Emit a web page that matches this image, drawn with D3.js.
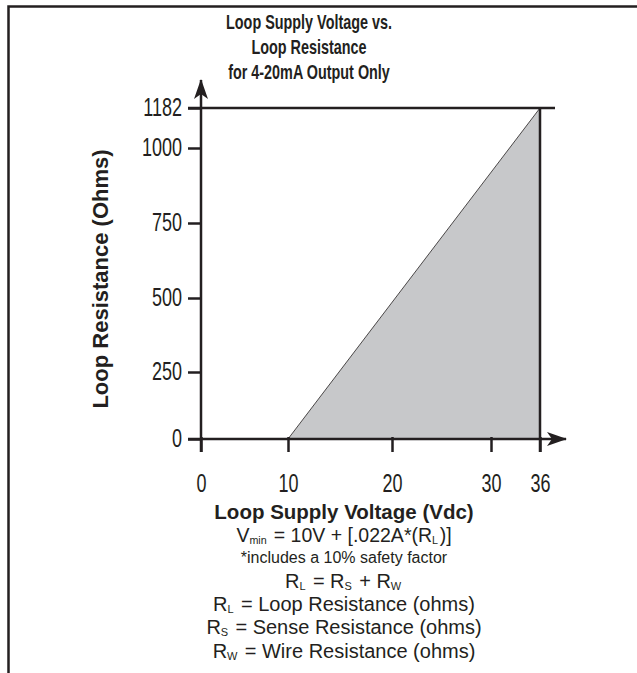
<!DOCTYPE html>
<head>
    <meta charset="utf-8">
    <title>Loop Supply Voltage vs. Loop Resistance</title>
    <style>
        html, body {
            margin: 0;
            background: #fff;
        }
        svg text {
            font-family: "Liberation Sans", Arial, sans-serif;
            fill: #231f20;
        }
        .tick text {
            font-size: 25px;
            transform-box: fill-box;
        }
        .y.axis .tick text {
            transform-origin: right center;
            transform: scaleX(0.72);
        }
        .x.axis .tick text {
            transform-origin: center center;
            transform: scaleX(0.72);
        }
    </style>
</head>
<body>
<script src="https://cdn.jsdelivr.net/npm/d3@7"></script>
<script>

    // data (axis is not drawn to scale, so the scales are piecewise)
    const xTicks = [0, 10, 20, 30, 36];
    const yTicks = [0, 250, 500, 750, 1000, 1182];
    const vMin = 10;        // volts at zero loop resistance
    const vMax = 36;
    const rMax = 1182;      // ohms at 36 V
    const region = [[vMin, 0], [vMax, rMax], [vMax, 0]];

    const titleLines = ["Loop Supply Voltage vs.", "Loop Resistance", "for 4-20mA Output Only"];

    const width = 637, height = 673;
    const ink = "#231f20";

    const svg = d3.select("body").append("svg")
        .attr("width", width)
        .attr("height", height);

    const x = d3.scaleLinear().domain(xTicks).range([201, 288, 392, 491, 540]);
    const y = d3.scaleLinear().domain(yTicks).range([439, 372, 298, 223, 148, 108]);

    // frame (open on the right)
    svg.append("path")
        .attr("d", "M637,6.5 H8.5 V673")
        .attr("fill", "none")
        .attr("stroke", ink)
        .attr("stroke-width", 2.5);

    // shaded operating region
    svg.append("path")
        .attr("d", d3.line().x(d => x(d[0])).y(d => y(d[1]))(region) + "Z")
        .attr("fill", "#c7c8ca")
        .attr("stroke", ink)
        .attr("stroke-width", 0.8);

    // arrow heads
    const defs = svg.append("defs");
    defs.append("marker")
        .attr("id", "arrow")
        .attr("viewBox", "0 0 20 14")
        .attr("refX", 19)
        .attr("refY", 7)
        .attr("markerWidth", 20)
        .attr("markerHeight", 14)
        .attr("markerUnits", "userSpaceOnUse")
        .attr("orient", "auto")
        .append("path")
        .attr("d", "M0,0 L20,7 L0,14 L5,7 Z")
        .attr("fill", ink);

    // y axis
    const yAxis = svg.append("g")
        .attr("class", "y axis")
        .attr("transform", `translate(${x(0)},0)`)
        .call(d3.axisLeft(y).tickValues(yTicks).tickFormat(d3.format("d")).tickSize(13).tickPadding(6));
    yAxis.select(".domain").remove();
    yAxis.selectAll(".tick line").attr("stroke", ink).attr("stroke-width", 2.5);
    yAxis.selectAll(".tick text").attr("dy", "0.3em");

    // x axis
    const xAxis = svg.append("g")
        .attr("class", "x axis")
        .attr("transform", `translate(0,${y(0)})`)
        .call(d3.axisBottom(x).tickValues(xTicks).tickFormat(d3.format("d")).tickSize(13).tickPadding(22));
    xAxis.select(".domain").remove();
    xAxis.selectAll(".tick line").attr("stroke", ink).attr("stroke-width", 2.5).attr("y1", -2);

    // axis lines with arrows
    svg.append("line")
        .attr("x1", x(0)).attr("x2", x(0))
        .attr("y1", y(0) + 13).attr("y2", 80)
        .attr("stroke", ink).attr("stroke-width", 2.5)
        .attr("marker-end", "url(#arrow)");
    svg.append("line")
        .attr("x1", x(0) - 13).attr("x2", 566)
        .attr("y1", y(0)).attr("y2", y(0))
        .attr("stroke", ink).attr("stroke-width", 2.5)
        .attr("marker-end", "url(#arrow)");

    // 1182 ohm limit and 36 V limit
    svg.append("line")
        .attr("x1", x(0) - 13).attr("x2", 555)
        .attr("y1", y(rMax)).attr("y2", y(rMax))
        .attr("stroke", ink).attr("stroke-width", 2.5);
    svg.append("line")
        .attr("x1", x(vMax)).attr("x2", x(vMax))
        .attr("y1", y(rMax)).attr("y2", y(0) + 13)
        .attr("stroke", ink).attr("stroke-width", 2.5);

    // title (condensed bold)
    svg.append("g")
        .attr("transform", "translate(309,0) scale(0.72,1)")
        .append("text")
        .attr("text-anchor", "middle")
        .attr("font-weight", "bold")
        .attr("font-size", 20)
        .selectAll("tspan")
        .data(titleLines)
        .join("tspan")
        .attr("x", 0)
        .attr("y", (d, i) => 29 + i * 25)
        .text(d => d);

    // y axis title
    svg.append("text")
        .attr("transform", "translate(108,279) rotate(-90)")
        .attr("text-anchor", "middle")
        .attr("font-weight", "bold")
        .attr("font-size", 22)
        .text("Loop Resistance (Ohms)");

    // notes under the chart
    const cx = 344;
    const notes = svg.append("g").attr("text-anchor", "middle");

    notes.append("text")
        .attr("x", cx).attr("y", 519)
        .attr("font-weight", "bold").attr("font-size", 20.5)
        .text("Loop Supply Voltage (Vdc)");

    function line(yPos, parts, size) {
        const t = notes.append("text").attr("x", cx).attr("y", yPos).attr("font-size", size);
        parts.forEach(p => {
            if (typeof p === "string") {
                t.append("tspan").text(p);
            } else {
                t.append("tspan").attr("font-size", size * 0.55).attr("dy", 2).text(p.sub);
                t.append("tspan").attr("dy", -2).text("\u200a");
            }
        });
        return t;
    }

    line(542, ["V", {sub: "min"}, " = 10V + [.022A*(R", {sub: "L"}, ")]"], 19.5);
    line(563, ["*includes a 10% safety factor"], 16);
    line(588, ["R", {sub: "L"}, " = R", {sub: "S"}, " + R", {sub: "W"}], 20);
    line(611, ["R", {sub: "L"}, " = Loop Resistance (ohms)"], 20);
    line(634, ["R", {sub: "S"}, " = Sense Resistance (ohms)"], 20);
    line(658, ["R", {sub: "W"}, " = Wire Resistance (ohms)"], 20);

</script>
</body>
